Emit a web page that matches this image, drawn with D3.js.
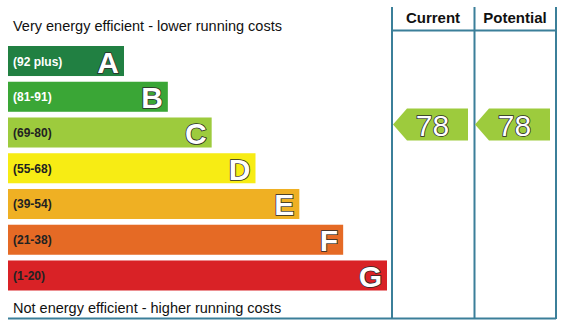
<!DOCTYPE html>
<html><head><meta charset="utf-8">
<script src="https://cdn.jsdelivr.net/npm/d3@7"></script>
<style>html,body{margin:0;padding:0;background:#fff;}svg{display:block;}</style>
</head><body>
<script>
const bands = ["A","B","C","D","E","F","G"];
const ranges = ["(92 plus)","(81-91)","(69-80)","(55-68)","(39-54)","(21-38)","(1-20)"];
const colors = ["#218042","#3aa636","#9dcb3d","#f7ec14","#efb023","#e56a25","#d92226"];
const labelColors = ["#ffffff","#ffffff","#222222","#222222","#222222","#222222","#222222"];
const columns = ["Current","Potential"];
const ratings = [78, 78];
const ratingBands = ["C","C"];

const W = 561, H = 323;
const svg = d3.select("body").append("svg").attr("width", W).attr("height", H);
const font = "Arial, 'Liberation Sans', sans-serif";
const lineColor = "#3b7f99";

const y = d3.scaleBand().domain(bands).range([46, 290.5]).paddingInner(0.16).paddingOuter(0);
const w = d3.scaleLinear().domain([0, 6]).range([116, 379]);
const x0 = 8;

// bars
const g = svg.append("g");
bands.forEach((b, i) => {
  const yy = y(b), bw = w(i);
  g.append("rect").attr("x", x0).attr("y", yy).attr("width", bw).attr("height", y.bandwidth()).attr("fill", colors[i]);
  g.append("text").attr("x", x0 + 5).attr("y", yy + y.bandwidth()/2 + 4.5)
    .attr("font-family", font).attr("font-size", 12).attr("font-weight", "bold")
    .attr("fill", labelColors[i]).text(ranges[i]);
  g.append("text").attr("x", x0 + bw - 5).attr("y", yy + y.bandwidth()/2 + 11.5)
    .attr("text-anchor", "end").attr("font-family", font).attr("font-size", 30).attr("font-weight", "bold")
    .attr("fill", "#fff").attr("stroke", "#2a2a2a").attr("stroke-width", 1.6).attr("paint-order", "stroke")
    .text(b);
});

// captions
svg.append("text").attr("x", 13).attr("y", 31).attr("font-family", font).attr("font-size", 14.5)
  .attr("fill", "#111").text("Very energy efficient - lower running costs");
svg.append("text").attr("x", 13).attr("y", 313).attr("font-family", font).attr("font-size", 14.5)
  .attr("fill", "#111").text("Not energy efficient - higher running costs");

// grid lines
const colX = d3.scaleBand().domain(columns).range([392, 556]);
const lines = svg.append("g").attr("stroke", lineColor).attr("stroke-width", 2);
[392, 474.5, 556].forEach(xx => lines.append("line").attr("x1", xx).attr("x2", xx).attr("y1", 7).attr("y2", 319));
lines.append("line").attr("x1", 392).attr("x2", 556).attr("y1", 30.5).attr("y2", 30.5);
lines.append("line").attr("x1", 8).attr("x2", 556).attr("y1", 318.5).attr("y2", 318.5);

// headers
columns.forEach(c => {
  svg.append("text").attr("x", colX(c) + colX.bandwidth()/2).attr("y", 23)
    .attr("text-anchor", "middle").attr("font-family", font).attr("font-size", 15).attr("font-weight", "bold")
    .attr("fill", "#111").text(c);
});

// arrows
columns.forEach((c, i) => {
  const bi = bands.indexOf(ratingBands[i]);
  const cy = y(ratingBands[i]) + y.bandwidth()/2 - 8;
  const left = colX(c) + 1, right = colX(c) + colX.bandwidth() - 6, h = 32;
  const pts = [[left, cy], [left + 14, cy - h/2], [right, cy - h/2], [right, cy + h/2], [left + 14, cy + h/2]];
  svg.append("path").attr("d", d3.line()(pts) + "Z").attr("fill", colors[bi]);
  svg.append("text").attr("x", (left + right)/2 + 2).attr("y", cy + 11)
    .attr("text-anchor", "middle").attr("font-family", font).attr("font-size", 30)
    .attr("fill", "#fff").attr("stroke", "#2a2a2a").attr("stroke-width", 1.6).attr("paint-order", "stroke")
    .text(ratings[i]);
});
</script>
</body></html>
